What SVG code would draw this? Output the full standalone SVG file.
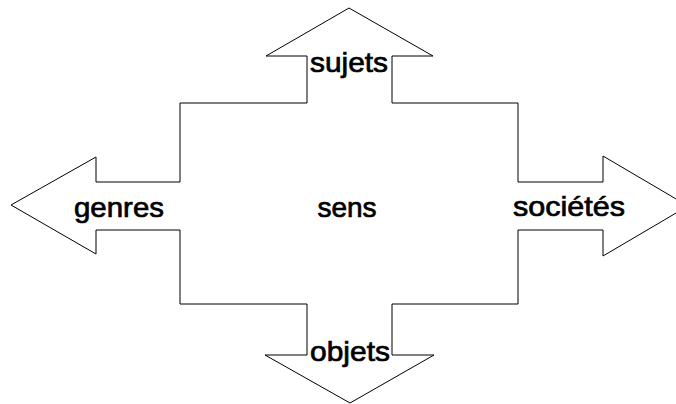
<svg xmlns="http://www.w3.org/2000/svg" width="676" height="404" viewBox="0 0 676 404">
<style>
.shape{fill:#fff;stroke:#000;stroke-width:1}
.lbl{font-family:"Liberation Sans",Arial,sans-serif;font-size:28px;fill:#000;stroke:#000;stroke-width:0.7;text-anchor:middle}
</style>
<rect width="676" height="404" fill="#fff"/>
<g id="cross">
<polygon class="shape" points="349,8 433,56 392,56 392,103 518,103 518,182 603,182 603,156 688,206 603,256 603,230 518,230 518,304 392,304 392,355 434,355 350,403 265,355 307,355 307,304 180,304 180,230 96,230 96,254 11,205 96,157 96,182 180,182 180,103 307,103 307,56 266,56"/>
</g>
<g id="sens"><text class="lbl" x="347" y="217">sens</text></g>
<g id="sujets"><text class="lbl" x="349" y="72" textLength="78" lengthAdjust="spacingAndGlyphs">sujets</text></g>
<g id="objets"><text class="lbl" x="350" y="361" textLength="80" lengthAdjust="spacingAndGlyphs">objets</text></g>
<g id="genres"><text class="lbl" x="119" y="217" textLength="90" lengthAdjust="spacingAndGlyphs">genres</text></g>
<g id="societes"><text class="lbl" x="569" y="216" textLength="112" lengthAdjust="spacingAndGlyphs">sociétés</text></g>
</svg>
